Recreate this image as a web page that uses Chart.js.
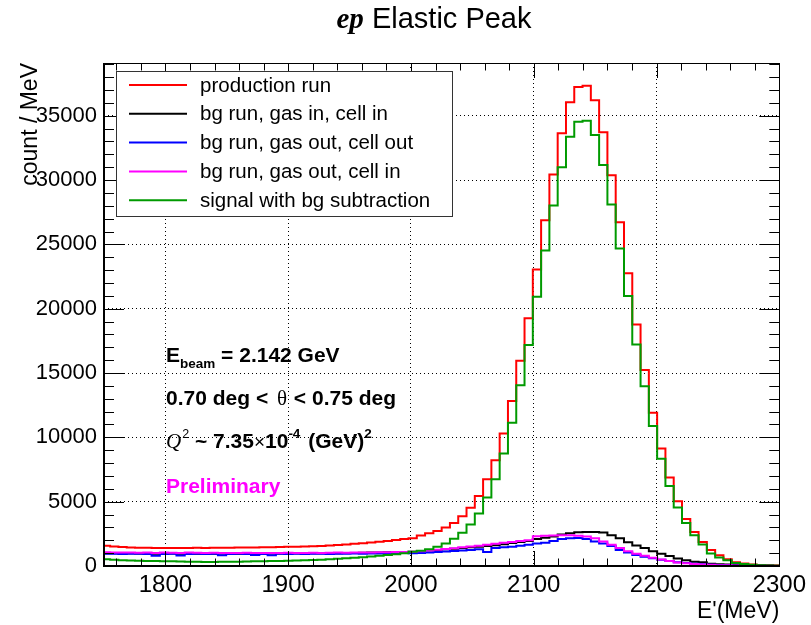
<!DOCTYPE html>
<html>
<head>
<meta charset="utf-8">
<script src="https://cdn.jsdelivr.net/npm/chart.js@4/dist/chart.umd.min.js"></script>
<style>
  html, body { margin: 0; padding: 0; background: #fff; }
  #wrap { width: 811px; height: 625px; }
</style>
</head>
<body>
<div id="wrap"><canvas id="chart" width="811" height="625"></canvas></div>
<script>
// histogram binning: 82 bins of 6.75 MeV, first low edge at 1748.25 MeV
const binStart = 1748.25;
const binWidth = 6.75;

const xTicks = [1800, 1900, 2000, 2100, 2200, 2300];
const yTicks = [0, 5000, 10000, 15000, 20000, 25000, 30000, 35000];

const seriesNames = [
  'production run',
  'bg run, gas in, cell in',
  'bg run, gas out, cell out',
  'bg run, gas out, cell in',
  'signal with bg subtraction'
];
const seriesColors = ['#ff0000', '#000000', '#0000ff', '#ff00ff', '#009a00'];

// counts per bin
const production = [
  1580, 1520, 1470, 1440, 1420, 1410, 1400, 1400, 1390, 1400, 1400, 1410, 1400, 1410, 1420, 1420,
  1430, 1440, 1440, 1450, 1460, 1470, 1490, 1500, 1520, 1540, 1560, 1590, 1630, 1670, 1720, 1770,
  1830, 1890, 1950, 2020, 2090,
  2160, 2370, 2550, 2730, 2990, 3350, 3870, 4520, 5450, 6750, 8230, 10300, 12820,
  15950, 19250, 23050, 26870, 30440, 33630, 36040, 37230, 37330, 36200, 33710, 30370, 26730, 22750, 18780, 15230,
  11910, 9140, 6880, 5040, 3660, 2650, 1870, 1250, 840, 530, 300, 190, 120, 80, 50, 30
];
const gasInCellIn = [
  1000, 990, 980, 990, 970, 980, 960, 970, 980, 960, 970, 960, 970, 960, 980, 970,
  960, 970, 980, 970, 980, 970, 980, 990, 980, 990, 1000, 990, 1000, 1010, 1020, 1030,
  1040, 1050, 1060, 1070, 1090,
  1100, 1150, 1200, 1250, 1300, 1350, 1400, 1450, 1500, 1560, 1620, 1700, 1780,
  1870, 1950, 2100, 2200, 2300, 2450, 2550, 2620, 2650, 2650, 2600, 2400, 2150, 1850, 1600, 1400,
  1150, 950, 780, 580, 450, 340, 290, 180, 140, 110, 80, 60, 40, 30, 20, 12
];
const gasOutCellOut = [
  950, 960, 940, 950, 960, 930, 800, 940, 950, 820, 930, 950, 940, 960, 830, 940,
  950, 930, 850, 940, 830, 950, 940, 960, 930, 950, 960, 940, 950, 960, 970, 960,
  970, 980, 990, 1000, 1010,
  1000, 1020, 1050, 1080, 1120, 1160, 1200, 1250, 1300, 1080, 1400, 1450, 1500,
  1580, 1650, 1750, 1800, 1950, 2100, 2150, 2180, 2100, 1900, 1750, 1550, 1250, 1050, 850, 720,
  600, 480, 380, 300, 230, 170, 130, 100, 75, 55, 40, 30, 20, 15, 10, 6
];
const gasOutCellIn = [
  1060, 1050, 1040, 1050, 1030, 1040, 1020, 1040, 1030, 1020, 1040, 1030, 1020, 1030, 1020, 1010,
  1020, 1030, 1010, 1020, 1010, 1020, 1030, 1010, 1020, 1030, 1020, 1030, 1040, 1030, 1040, 1050,
  1050, 1060, 1070, 1080, 1090,
  1100, 1150, 1200, 1260, 1320, 1380, 1450, 1520, 1580, 1650, 1720, 1800, 1870,
  1950, 2000, 2320, 2350, 2380, 2400, 2390, 2360, 2300, 2150, 1900, 1650, 1400, 1150, 950, 800,
  650, 500, 380, 280, 210, 160, 120, 90, 65, 50, 35, 25, 18, 12, 8, 5
];
const signal = [
  520, 480, 450, 420, 400, 390, 380, 370, 360, 350, 340, 330, 320, 320, 330, 330,
  340, 350, 360, 370, 380, 390, 400, 420, 440, 460, 490, 520, 560, 600, 640, 680,
  730, 790, 850, 920, 1000,
  1100, 1180, 1310, 1490, 1750, 2110, 2580, 3230, 4080, 5330, 6750, 8750, 11130,
  14060, 17170, 20930, 24530, 28030, 30990, 33370, 34530, 34610, 33500, 31170, 28110, 24690, 20980, 17220, 13980,
  10890, 8330, 6210, 4550, 3350, 2400, 1670, 970, 660, 450, 240, 150, 100, 60, 40, 20
];

const allSeries = [production, gasInCellIn, gasOutCellOut, gasOutCellIn, signal];

// turn bin contents into step points (low edges + closing upper edge)
function toSteps(vals) {
  const pts = vals.map((v, i) => ({ x: binStart + i * binWidth, y: v }));
  pts.push({ x: binStart + vals.length * binWidth, y: vals[vals.length - 1] });
  return pts;
}

const SANS = '"Liberation Sans", Arial, Helvetica, sans-serif';
const SERIF = '"Liberation Serif", "Times New Roman", serif';

// ROOT-like frame, ticks, legend and labels
const rootStyle = {
  id: 'rootStyle',
  afterDatasetsDraw(chart) {
    const ctx = chart.ctx;
    const a = chart.chartArea;
    const xs = chart.scales.x, ys = chart.scales.y;
    ctx.save();
    ctx.strokeStyle = '#000';
    ctx.lineWidth = 1;
    ctx.beginPath();
    for (let v = 1760; v <= 2300; v += 20) {
      const px = Math.round(xs.getPixelForValue(v)) + 0.5;
      const len = (v % 100 === 0) ? 15 : 7.5;
      ctx.moveTo(px, a.bottom); ctx.lineTo(px, a.bottom - len);
      ctx.moveTo(px, a.top); ctx.lineTo(px, a.top + len);
    }
    for (let v = 0; v <= 39000; v += 1000) {
      const py = Math.round(ys.getPixelForValue(v)) + 0.5;
      const len = (v % 5000 === 0) ? 20 : 10;
      ctx.moveTo(a.left, py); ctx.lineTo(a.left + len, py);
      ctx.moveTo(a.right, py); ctx.lineTo(a.right - len, py);
    }
    ctx.stroke();
    // frame
    ctx.strokeRect(Math.round(a.left) + 0.5, Math.round(a.top) + 0.5, Math.round(a.right - a.left), Math.round(a.bottom - a.top));
    ctx.lineWidth = 2;
    ctx.beginPath();
    ctx.moveTo(a.left, a.top); ctx.lineTo(a.left, a.bottom); ctx.lineTo(a.right, a.bottom);
    ctx.stroke();
    ctx.restore();
  },
  afterDraw(chart) {
    const ctx = chart.ctx;
    const a = chart.chartArea;
    ctx.save();
    ctx.textBaseline = 'alphabetic';
    ctx.fillStyle = '#000';

    // title
    const partA = 'ep', partB = ' Elastic Peak';
    ctx.font = 'bold italic 29px ' + SERIF;
    const wA = ctx.measureText(partA).width;
    ctx.font = '29px ' + SANS;
    const wB = ctx.measureText(partB).width;
    let tx = 434 - (wA + wB) / 2;
    ctx.font = 'bold italic 29px ' + SERIF;
    ctx.fillText(partA, tx, 28);
    ctx.font = '29px ' + SANS;
    ctx.fillText(partB, tx + wA, 28);

    // axis titles
    ctx.font = '23px ' + SANS;
    ctx.textAlign = 'right';
    ctx.fillText("E'(MeV)", a.right, 618);
    ctx.save();
    ctx.translate(37, a.top);
    ctx.rotate(-Math.PI / 2);
    ctx.textAlign = 'right';
    ctx.fillText('count / MeV', 0, 0);
    ctx.restore();
    ctx.textAlign = 'left';

    // legend box
    const lx = 116, ly = 71, lw = 336, lh = 145;
    ctx.fillStyle = '#fff';
    ctx.fillRect(lx, ly, lw, lh);
    ctx.strokeStyle = '#333';
    ctx.lineWidth = 1;
    ctx.strokeRect(lx + 0.5, ly + 0.5, lw, lh);
    ctx.font = '20.5px ' + SANS;
    ctx.textBaseline = 'middle';
    chart.data.datasets.forEach((ds, i) => {
      const y = 85 + i * 28.8;
      ctx.strokeStyle = ds.borderColor;
      ctx.lineWidth = 2;
      ctx.beginPath();
      ctx.moveTo(129, y); ctx.lineTo(187, y);
      ctx.stroke();
      ctx.fillStyle = '#000';
      ctx.fillText(ds.label, 200, y + 1);
    });
    ctx.textBaseline = 'alphabetic';

    // annotations
    const B = 'bold 21px ' + SANS;
    const Bs = 'bold 13.5px ' + SANS;
    const put = (txt, font, x, y) => { ctx.font = font; ctx.fillText(txt, x, y); return x + ctx.measureText(txt).width; };
    ctx.fillStyle = '#000';
    let x = 166;
    x = put('E', B, x, 362);
    x = put('beam', Bs, x, 368);
    put(' = 2.142 GeV', B, x, 362);

    x = 166;
    x = put('0.70 deg < ', B, x, 405);
    x = put('\u03b8', '21px ' + SERIF, x + 3, 405);
    put(' < 0.75 deg', B, x + 1, 405);

    x = 166;
    x = put('Q', 'italic 21px ' + SERIF, x, 448);
    x = put('2', '12.5px ' + SANS, x + 1, 438);
    x = put(' ~ 7.35', B, x, 448);
    x = put('\u00d7', '19px ' + SANS, x, 448);
    x = put('10', B, x, 448);
    x = put('-4', Bs, x, 438);
    x = put(' (GeV)', B, x + 2, 448);
    put('2', Bs, x, 438);

    ctx.fillStyle = '#ff00ff';
    put('Preliminary', B, 166, 493);
    ctx.restore();
  }
};

const datasets = allSeries.map((vals, i) => ({
  label: seriesNames[i],
  data: toSteps(vals),
  borderColor: seriesColors[i],
  backgroundColor: seriesColors[i],
  borderWidth: 2,
  stepped: true,
  pointRadius: 0,
  fill: false,
  order: allSeries.length - i
}));

const ctx = document.getElementById('chart').getContext('2d');
const chart = new Chart(ctx, {
  type: 'line',
  data: { datasets: datasets },
  options: {
    responsive: false,
    animation: false,
    devicePixelRatio: 1,
    layout: { padding: { left: 0, top: 63, right: 28, bottom: 0 } },
    plugins: { legend: { display: false }, tooltip: { enabled: false }, title: { display: false } },
    scales: {
      x: {
        type: 'linear',
        min: 1750,
        max: 2300,
        afterFit: s => { s.height = 59; },
        afterBuildTicks: s => { s.ticks = xTicks.map(v => ({ value: v })); },
        ticks: {
          color: '#000',
          font: { family: SANS, size: 24 },
          padding: 5,
          maxRotation: 0,
          autoSkip: false,
          includeBounds: false,
          callback: v => String(v)
        },
        grid: { color: '#000', lineWidth: 1, drawTicks: false },
        border: { display: false, dash: [1, 3] }
      },
      y: {
        min: 0,
        max: 39100,
        afterFit: s => { s.width = 104; },
        afterBuildTicks: s => { s.ticks = yTicks.map(v => ({ value: v })); },
        ticks: {
          color: '#000',
          font: { family: SANS, size: 22 },
          padding: 7,
          autoSkip: false,
          includeBounds: false,
          callback: v => String(v)
        },
        grid: { color: '#000', lineWidth: 1, drawTicks: false },
        border: { display: false, dash: [1, 3] }
      }
    }
  },
  plugins: [rootStyle]
});
</script>
</body>
</html>
